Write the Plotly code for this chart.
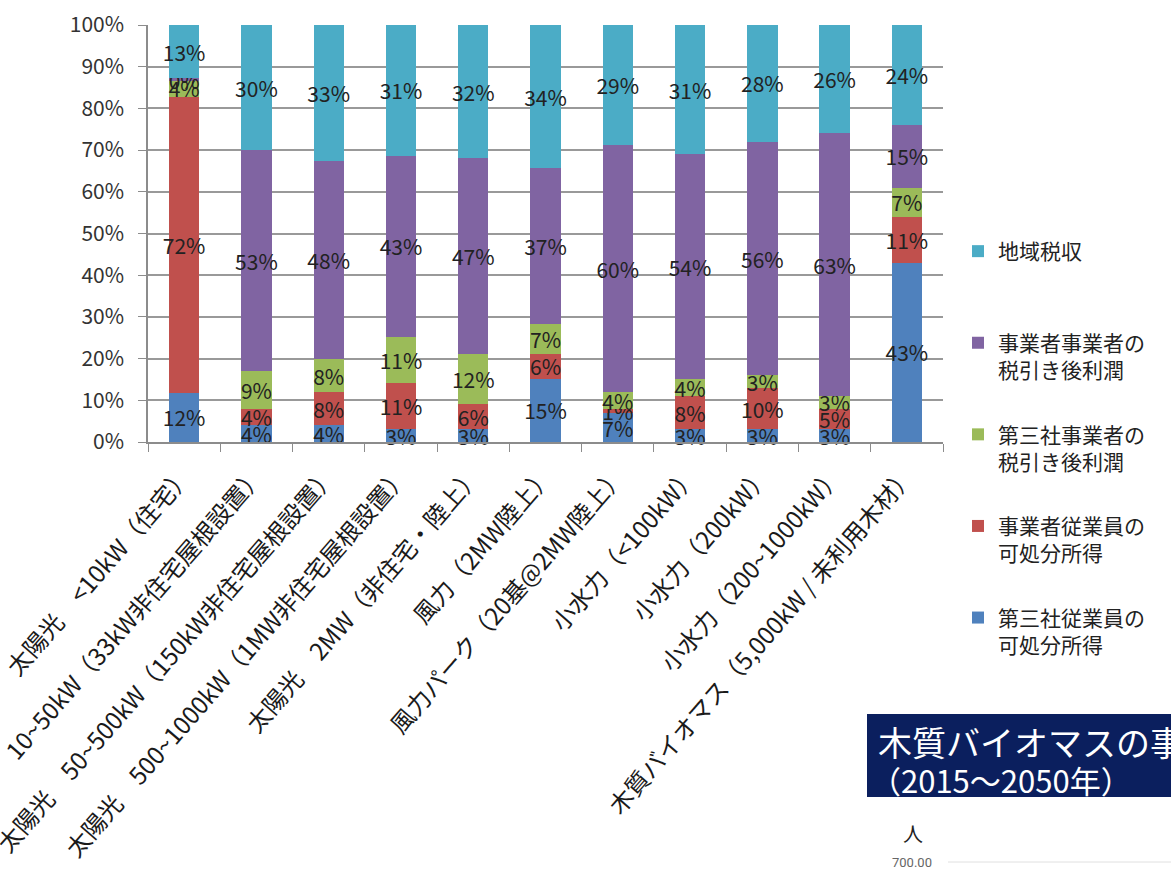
import plotly.graph_objects as go

categories = [
    "太陽光　<10kW（住宅）",
    "10~50kW（33kW非住宅屋根設置）",
    "太陽光　50~500kW（150kW非住宅屋根設置）",
    "太陽光　500~1000kW（1MW非住宅屋根設置）",
    "太陽光　2MW（非住宅・陸上）",
    "風力（2MW陸上）",
    "風力パーク（20基@2MW陸上）",
    "小水力（<100kW）",
    "小水力（200kW）",
    "小水力（200~1000kW）",
    "木質バイオマス（5,000kW / 未利用木材）",
]

# series, bottom to top (percent shares)
third_emp_income = [12, 4, 4, 3, 3, 15, 7, 3, 3, 3, 43]     # 第三社従業員の可処分所得
op_emp_income = [72, 4, 8, 11, 6, 6, 1, 8, 10, 5, 11]       # 事業者従業員の可処分所得
third_profit = [4, 9, 8, 11, 12, 7, 4, 4, 3, 3, 7]          # 第三社事業者の税引き後利潤
op_profit = [0.4, 53, 48, 43, 47, 37, 60, 54, 56, 63, 15]   # 事業者事業者の税引き後利潤
local_tax = [13, 30, 33, 31, 32, 34, 29, 31, 28, 26, 24]    # 地域税収

series = [
    ("第三社従業員の<br>可処分所得", third_emp_income, "#4F81BD"),
    ("事業者従業員の<br>可処分所得", op_emp_income, "#C0504D"),
    ("第三社事業者の<br>税引き後利潤", third_profit, "#9BBB59"),
    ("事業者事業者の<br>税引き後利潤", op_profit, "#8064A2"),
    ("地域税収<br>\u00a0", local_tax, "#4BACC6"),
]

FONT = "Noto Sans CJK JP"

fig = go.Figure()
n = len(series)
for i, (name, vals, color) in enumerate(series):
    fig.add_trace(go.Bar(
        x=categories, y=vals, name=name, legendgroup=f"g{i}", legendrank=n - i,
        marker=dict(color=color, line=dict(width=0)),
        text=[f"{round(v)}%" for v in vals],
        textposition="inside", insidetextanchor="middle", textangle=0,
        constraintext="none", cliponaxis=False,
        textfont=dict(family=FONT, size=21, color="#222222"),
        hoverinfo="skip",
    ))

fig.update_layout(
    width=1171, height=870, autosize=False,
    margin=dict(l=148, r=228, t=25, b=428, autoexpand=False),
    paper_bgcolor="white", plot_bgcolor="white",
    barmode="stack", barnorm="percent", bargap=0.58,
    font=dict(family=FONT, color="#222222"),
    legend=dict(
        x=958 / 1171, xref="container", xanchor="left",
        y=1 - 231 / 870, yref="container", yanchor="top",
        traceorder="grouped", valign="top", maxheight=1,
        font=dict(family=FONT, size=21, color="#222222"),
        tracegroupgap=34, itemwidth=30, bgcolor="rgba(0,0,0,0)",
    ),
    xaxis=dict(
        type="category", tickangle=-49, ticks="outside", tickson="boundaries",
        ticklen=8, tickcolor="#8c8c8c", showline=True, linecolor="#8c8c8c",
        linewidth=1.5, tickfont=dict(family=FONT, size=24, color="#1a1a1a"),
        ticklabelstandoff=8, automargin=False, showgrid=False,
    ),
    yaxis=dict(
        range=[0, 100], dtick=10, ticksuffix="%", ticks="outside", ticklen=8,
        tickcolor="#8c8c8c", showline=True, linecolor="#8c8c8c", linewidth=1.5,
        showgrid=True, gridcolor="#999999", gridwidth=1.5, zeroline=False,
        ticklabelstandoff=10,
        tickfont=dict(family=FONT, size=21, color="#333333"), automargin=False,
    ),
)

# inset panel (partial second chart at bottom right)
fig.add_shape(type="rect", xref="paper", yref="paper",
              x0=(867 - 148) / 795, x1=(1180 - 148) / 795,
              y0=(442 - 797) / 417, y1=(442 - 714) / 417,
              fillcolor="#0B1F5E", line=dict(width=0), layer="above")
fig.add_annotation(xref="paper", yref="paper", x=(876 - 148) / 795, y=(442 - 741) / 417,
                   text="木質バイオマスの事", showarrow=False, xanchor="left", yanchor="middle",
                   font=dict(family=FONT, size=34, color="white"))
fig.add_annotation(xref="paper", yref="paper", x=(868 - 148) / 795, y=(442 - 780) / 417,
                   text="（2015～2050年）", showarrow=False, xanchor="left", yanchor="middle",
                   font=dict(family=FONT, size=31, color="white"))
fig.add_annotation(xref="paper", yref="paper", x=(913 - 148) / 795, y=(442 - 833) / 417,
                   text="人", showarrow=False, xanchor="center", yanchor="middle",
                   font=dict(family=FONT, size=20, color="#222222"))
fig.add_annotation(xref="paper", yref="paper", x=(934 - 148) / 795, y=(442 - 862) / 417,
                   text="700.00", showarrow=False, xanchor="right", yanchor="middle",
                   font=dict(family="Roboto", size=13, color="#666666"))
fig.add_shape(type="line", xref="paper", yref="paper",
              x0=(948 - 148) / 795, x1=(1171 - 148) / 795,
              y0=(442 - 862) / 417, y1=(442 - 862) / 417,
              line=dict(color="#e0e0e0", width=1))

fig.write_html("out.html")
